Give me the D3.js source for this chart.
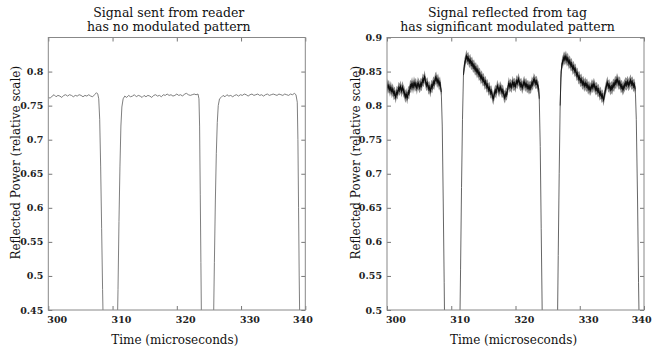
<!DOCTYPE html>
<html>
<head>
<meta charset="utf-8">
<script src="https://cdn.jsdelivr.net/npm/d3@7"></script>
<style>
  body { margin: 0; background: #fff; }
</style>
</head>
<body>
<div id="chart"></div>
<script>
// values
const readerTime = [
  300.0, 300.3, 300.6, 300.9, 301.2, 301.5, 301.8, 302.1, 302.4, 302.7, 303.0, 303.3, 303.6, 303.9,
  304.2, 304.5, 304.8, 305.1, 305.4, 305.7, 306.0, 306.3, 306.6, 306.9, 307.2, 307.5, 307.7, 307.85,
  308.0, 308.15, 308.3, 308.45, 308.6, 309.5, 310.7, 310.85, 311.0, 311.15, 311.3, 311.45, 311.65, 311.9,
  312.2, 312.5, 312.8, 313.1, 313.4, 313.7, 314.0, 314.3, 314.6, 314.9, 315.2, 315.5, 315.8, 316.1,
  316.4, 316.7, 317.0, 317.3, 317.6, 317.9, 318.2, 318.5, 318.8, 319.1, 319.4, 319.7, 320.0, 320.3,
  320.6, 320.9, 321.2, 321.5, 321.8, 322.1, 322.4, 322.7, 323.0, 323.3, 323.45, 323.55, 323.65, 323.75,
  323.85, 324.8, 325.7, 325.85, 326.0, 326.15, 326.3, 326.45, 326.65, 326.9, 327.2, 327.5, 327.8, 328.1,
  328.4, 328.7, 329.0, 329.3, 329.6, 329.9, 330.2, 330.5, 330.8, 331.1, 331.4, 331.7, 332.0, 332.3,
  332.6, 332.9, 333.2, 333.5, 333.8, 334.1, 334.4, 334.7, 335.0, 335.3, 335.6, 335.9, 336.2, 336.5,
  336.8, 337.1, 337.4, 337.7, 338.0, 338.3, 338.55, 338.75, 338.85, 338.95, 339.05, 339.15, 340.0
];
const readerPower = [
  0.762, 0.761, 0.764, 0.766, 0.763, 0.765, 0.764, 0.762, 0.765, 0.766, 0.764, 0.766, 0.765, 0.763,
  0.765, 0.764, 0.766, 0.765, 0.763, 0.765, 0.764, 0.766, 0.764, 0.763, 0.766, 0.769, 0.767, 0.760,
  0.730, 0.660, 0.570, 0.480, 0.400, 0.350, 0.400, 0.480, 0.580, 0.660, 0.720, 0.748, 0.760, 0.764,
  0.762, 0.765, 0.763, 0.764, 0.766, 0.763, 0.765, 0.764, 0.762, 0.765, 0.763, 0.765, 0.764, 0.762,
  0.765, 0.766, 0.764, 0.765, 0.763, 0.766, 0.765, 0.767, 0.765, 0.766, 0.764, 0.765, 0.767, 0.765,
  0.766, 0.764, 0.767, 0.768, 0.766, 0.765, 0.766, 0.767, 0.766, 0.767, 0.760, 0.720, 0.620, 0.520,
  0.420, 0.350, 0.420, 0.520, 0.610, 0.680, 0.725, 0.750, 0.760, 0.762, 0.765, 0.763, 0.766, 0.764,
  0.765, 0.763, 0.765, 0.766, 0.764, 0.766, 0.765, 0.767, 0.766, 0.764, 0.766, 0.767, 0.765, 0.766,
  0.767, 0.765, 0.766, 0.764, 0.766, 0.767, 0.765, 0.766, 0.767, 0.766, 0.765, 0.767, 0.766, 0.765,
  0.767, 0.766, 0.765, 0.767, 0.766, 0.768, 0.766, 0.755, 0.700, 0.600, 0.500, 0.420, 0.350
];

const tagTime = [
  300.00, 300.15, 300.30, 300.45, 300.60, 300.75, 300.90, 301.05, 301.20, 301.35, 301.50, 301.65,
  301.80, 301.95, 302.10, 302.25, 302.40, 302.55, 302.70, 302.85, 303.00, 303.15, 303.30, 303.45,
  303.60, 303.75, 303.90, 304.05, 304.20, 304.35, 304.50, 304.65, 304.80, 304.95, 305.10, 305.25,
  305.40, 305.55, 305.70, 305.85, 306.00, 306.15, 306.30, 306.45, 306.60, 306.75, 306.90, 307.05,
  307.20, 307.35, 307.50, 307.65, 307.80, 307.95, 308.10, 308.25, 308.45, 308.60, 308.75, 308.90,
  309.00, 310.00, 311.30, 311.45, 311.60, 311.75,
  311.90, 312.05, 312.20, 312.35, 312.50, 312.65, 312.80, 312.95, 313.10, 313.25, 313.40, 313.55,
  313.70, 313.85, 314.00, 314.15, 314.30, 314.45, 314.60, 314.75, 314.90, 315.05, 315.20, 315.35,
  315.50, 315.65, 315.80, 315.95, 316.10, 316.25, 316.40, 316.55, 316.70, 316.85, 317.00, 317.15,
  317.30, 317.45, 317.60, 317.75, 317.90, 318.05, 318.20, 318.35, 318.50, 318.65, 318.80, 318.95,
  319.10, 319.25, 319.40, 319.55, 319.70, 319.85, 320.00, 320.15, 320.30, 320.45, 320.60, 320.75,
  320.90, 321.05, 321.20, 321.35, 321.50, 321.65, 321.80, 321.95, 322.10, 322.25, 322.40, 322.55,
  322.70, 322.85, 323.00, 323.15, 323.30, 323.45, 323.60, 323.70, 323.85, 324.00, 324.15, 324.30,
  325.50, 326.50, 326.65, 326.80, 326.95,
  327.10, 327.25, 327.40, 327.55, 327.70, 327.85, 328.00, 328.15, 328.30, 328.45, 328.60, 328.75,
  328.90, 329.05, 329.20, 329.35, 329.50, 329.65, 329.80, 329.95, 330.10, 330.25, 330.40, 330.55,
  330.70, 330.85, 331.00, 331.15, 331.30, 331.45, 331.60, 331.75, 331.90, 332.05, 332.20, 332.35,
  332.50, 332.65, 332.80, 332.95, 333.10, 333.25, 333.40, 333.55, 333.70, 333.85, 334.00, 334.15,
  334.30, 334.45, 334.60, 334.75, 334.90, 335.05, 335.20, 335.35, 335.50, 335.65, 335.80, 335.95,
  336.10, 336.25, 336.40, 336.55, 336.70, 336.85, 337.00, 337.15, 337.30, 337.45, 337.60, 337.75,
  337.90, 338.05, 338.20, 338.35, 338.50, 338.65, 338.80, 339.00, 339.15, 339.30, 340.00
];
const tagPower = [
  0.831, 0.826, 0.829, 0.822, 0.827, 0.820, 0.824, 0.817, 0.819, 0.812, 0.820, 0.818,
  0.826, 0.823, 0.828, 0.821, 0.827, 0.822, 0.819, 0.813, 0.817, 0.811, 0.820, 0.818,
  0.829, 0.827, 0.833, 0.826, 0.834, 0.829, 0.832, 0.825, 0.833, 0.830, 0.827, 0.832,
  0.830, 0.838, 0.836, 0.843, 0.835, 0.830, 0.833, 0.825, 0.827, 0.821, 0.829, 0.827,
  0.834, 0.832, 0.839, 0.841, 0.835, 0.838, 0.831, 0.834, 0.820, 0.770, 0.660, 0.540,
  0.450, 0.400, 0.450, 0.560, 0.680, 0.780,
  0.845, 0.860, 0.866, 0.873, 0.868, 0.870, 0.864, 0.867, 0.861, 0.863, 0.857, 0.859,
  0.853, 0.855, 0.849, 0.852, 0.845, 0.847, 0.840, 0.843, 0.837, 0.839, 0.832, 0.835,
  0.828, 0.830, 0.823, 0.826, 0.819, 0.821, 0.814, 0.810, 0.817, 0.822, 0.819, 0.829,
  0.825, 0.821, 0.827, 0.824, 0.820, 0.822, 0.815, 0.812, 0.818, 0.816, 0.825, 0.833,
  0.828, 0.831, 0.827, 0.835, 0.830, 0.832, 0.828, 0.836, 0.833, 0.839, 0.834, 0.830,
  0.832, 0.826, 0.831, 0.835, 0.829, 0.832, 0.827, 0.829, 0.825, 0.828, 0.826, 0.834,
  0.831, 0.839, 0.836, 0.833, 0.835, 0.829, 0.826, 0.810, 0.740, 0.620, 0.500, 0.440,
  0.400, 0.450, 0.580, 0.700, 0.800,
  0.850, 0.862, 0.866, 0.871, 0.868, 0.872, 0.866, 0.869, 0.862, 0.865, 0.859, 0.861,
  0.854, 0.857, 0.851, 0.853, 0.845, 0.847, 0.840, 0.842, 0.836, 0.838, 0.832, 0.835,
  0.829, 0.833, 0.829, 0.831, 0.825, 0.828, 0.823, 0.826, 0.830, 0.827, 0.832, 0.827,
  0.824, 0.826, 0.821, 0.823, 0.816, 0.819, 0.813, 0.815, 0.808, 0.816, 0.823, 0.829,
  0.834, 0.828, 0.830, 0.824, 0.827, 0.825, 0.831, 0.829, 0.835, 0.833, 0.839, 0.835,
  0.832, 0.834, 0.827, 0.829, 0.824, 0.827, 0.830, 0.833, 0.831, 0.835, 0.830, 0.833,
  0.837, 0.832, 0.834, 0.829, 0.831, 0.824, 0.780, 0.660, 0.540, 0.450, 0.400
];
// half heights of the noisy band on the tag trace (outer grey fringe, dark core)
const tagSpread = 0.009;
const tagCore = 0.004;

const timeTicks = [300, 310, 320, 330, 340];
const readerTicks = [0.45, 0.5, 0.55, 0.6, 0.65, 0.7, 0.75, 0.8];
const tagTicks = [0.5, 0.55, 0.6, 0.65, 0.7, 0.75, 0.8, 0.85, 0.9];
const readerTitle = ["Signal sent from reader", "has no modulated pattern"];
const tagTitle = ["Signal reflected from tag", "has significant modulated pattern"];
const xLabel = "Time (microseconds)";
const yLabel = "Reflected Power (relative scale)";

const FONT = "DejaVu Serif";
const W = 652, H = 352;
const svg = d3.select("#chart").append("svg")
  .attr("width", W).attr("height", H)
  .attr("font-family", FONT)
  .style("background", "#fff");

const setFont = (sel, size, weight) => sel
  .attr("font-family", FONT).attr("font-size", size)
  .attr("font-weight", weight || "normal");

function drawPanel(opt) {
  const left = opt.left, width = 257, top = 37.5, height = 272.5;
  const g = svg.append("g").attr("transform", `translate(${left},${top})`);

  const x = d3.scaleLinear().domain([300, 340]).range([0, width]);
  const y = d3.scaleLinear().domain(opt.yDomain).range([height, 0]);

  const clipId = "clip-" + opt.name;
  g.append("clipPath").attr("id", clipId)
    .append("rect").attr("width", width).attr("height", height);

  const pts = opt.time.map((t, i) => ({ t, v: opt.power[i] }));
  const plot = g.append("g").attr("clip-path", `url(#${clipId})`);

  const line = d3.line().x(d => x(d.t)).y(d => y(d.v));
  plot.append("path").attr("d", line(pts))
    .attr("fill", "none").attr("stroke", opt.band ? "#555" : "#707070")
    .attr("stroke-width", 0.9);

  if (opt.band) {
    const band = half => d3.area()
      .defined(d => d.v >= 0.8)
      .x(d => x(d.t))
      .y0(d => y(d.v - half))
      .y1(d => y(d.v + half));
    plot.append("path").attr("d", band(tagSpread)(pts)).attr("fill", "#8c8c8c");
    plot.append("path").attr("d", band(tagCore)(pts)).attr("fill", "#1c1c1c");
    plot.append("path").attr("d", line.defined(d => d.v >= 0.8)(pts))
      .attr("fill", "none").attr("stroke", "#000").attr("stroke-width", 0.6);
  }

  // axes with inward ticks on all four sides
  const tickCol = "#777";
  const styleAxis = a => {
    a.attr("font-family", FONT);
    a.select(".domain").remove();
    a.selectAll(".tick line").attr("stroke", tickCol);
    a.selectAll(".tick text").call(setFont, 9.5, "bold").attr("fill", "#222");
  };
  const last = timeTicks[timeTicks.length - 1];
  g.append("g").attr("transform", `translate(0,${height})`)
    .call(d3.axisBottom(x).tickValues(timeTicks).tickSize(-4).tickPadding(6).tickFormat(d3.format("d")))
    .call(styleAxis)
    .call(a => a.selectAll(".tick text")
      .attr("text-anchor", d => d === last ? "end" : "start")
      .attr("dx", d => d === last ? 7 : -1.5));
  g.append("g")
    .call(d3.axisTop(x).tickValues(timeTicks).tickSize(-4).tickFormat(""))
    .call(styleAxis);
  g.append("g")
    .call(d3.axisLeft(y).tickValues(opt.yTicks).tickSize(-4).tickPadding(5).tickFormat(d => String(+d.toFixed(2))))
    .call(styleAxis);
  g.append("g").attr("transform", `translate(${width},0)`)
    .call(d3.axisRight(y).tickValues(opt.yTicks).tickSize(-4).tickFormat(""))
    .call(styleAxis);

  g.append("rect").attr("width", width).attr("height", height)
    .attr("fill", "none").attr("stroke", "#888").attr("stroke-width", 1);

  // titles and labels
  const tx = width / 2 - 8;
  [opt.title[0], opt.title[1]].forEach((s, i) => {
    g.append("text").attr("text-anchor", "middle")
      .attr("x", tx).attr("y", i === 0 ? -20.5 : -7)
      .call(setFont, 12.5).attr("fill", "#111")
      .text(s);
  });

  g.append("text").attr("text-anchor", "middle")
    .attr("x", width / 2 - 2).attr("y", 343.5 - top)
    .call(setFont, 12).attr("fill", "#111")
    .text(xLabel);

  g.append("text").attr("text-anchor", "middle")
    .attr("transform", `translate(${opt.yLabelX - left},${height / 2 - 11}) rotate(-90)`)
    .call(setFont, 12).attr("fill", "#111")
    .text(yLabel);
}

drawPanel({ name: "reader", left: 48.3, yDomain: [0.45, 0.85], yTicks: readerTicks,
  time: readerTime, power: readerPower, title: readerTitle, yLabelX: 20, band: false });
drawPanel({ name: "tag", left: 387, yDomain: [0.5, 0.9], yTicks: tagTicks,
  time: tagTime, power: tagPower, title: tagTitle, yLabelX: 359.5, band: true });
</script>
</body>
</html>
